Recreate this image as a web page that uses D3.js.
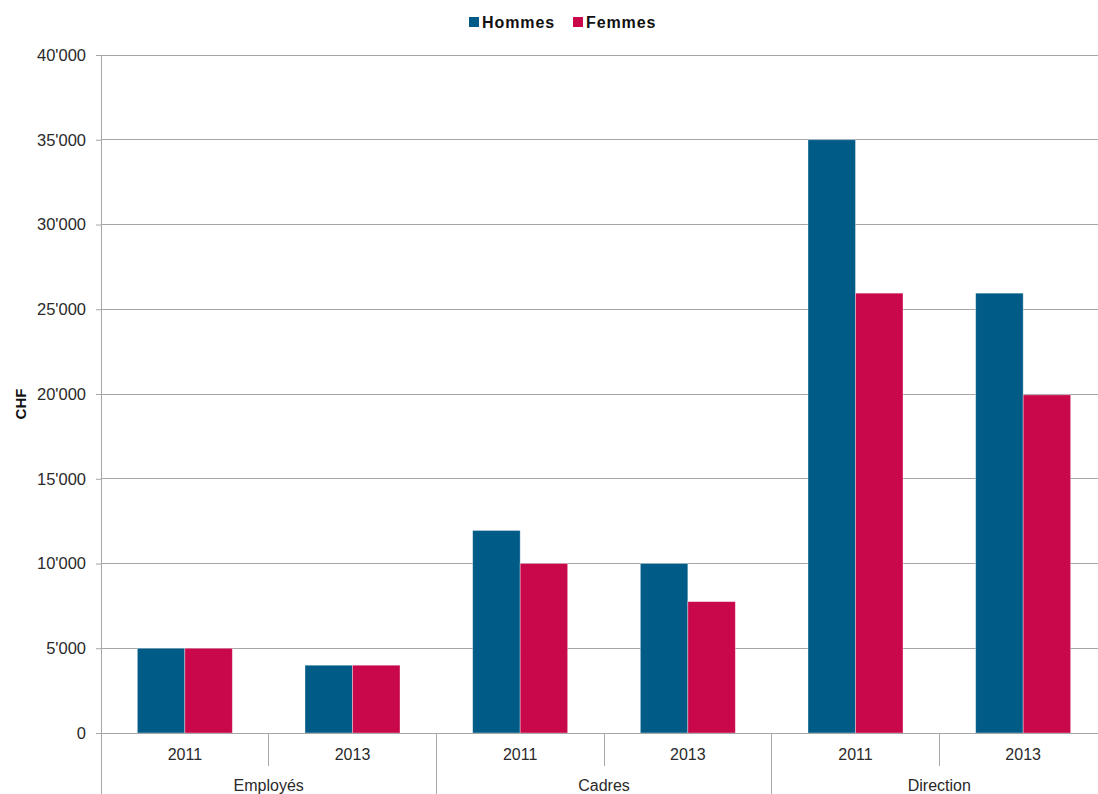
<!DOCTYPE html>
<html>
<head>
<meta charset="utf-8">
<script src="https://cdn.jsdelivr.net/npm/d3@7"></script>
<style>
  body { margin: 0; background: #fff; }
  svg { display: block; font-family: "Liberation Sans", Arial, sans-serif; }
</style>
</head>
<body>
<svg id="chart" width="1098" height="794"></svg>
<script>
// Categories, years and series values (CHF)
const groups = ["Employés", "Cadres", "Direction"];
const years = ["2011", "2013"];
const seriesNames = ["Hommes", "Femmes"];
const hommes = [5000, 4000, 11950, 10000, 35000, 25950];
const femmes = [5000, 4000, 10000, 7750, 25950, 19950];
const yTicks = [0, 5000, 10000, 15000, 20000, 25000, 30000, 35000, 40000];
const colors = ["#005b87", "#c8084a"];

(function () {
const svg = d3.select("#chart");
const plotLeft = 101, plotRight = 1107, plotTop = 55, plotBottom = 733;

// one band per group/year pair
const slots = [];
groups.forEach((g, gi) => years.forEach((yr, yi) => slots.push({ key: g + "|" + yr, group: g, year: yr, i: gi * 2 + yi })));

const x = d3.scaleBand().domain(slots.map(d => d.key)).range([plotLeft, plotRight]).paddingInner(0).paddingOuter(0);
const xInner = d3.scaleBand().domain(seriesNames).range([0, x.bandwidth()]).paddingInner(0).paddingOuter(0.765);
const y = d3.scaleLinear().domain([0, 40000]).range([plotBottom, plotTop]);

const fmt = v => v === 0 ? "0" : d3.format(",")(v).replace(/,/g, "'");

// gridlines
svg.append("g").selectAll("line").data(yTicks.filter(t => t > 0)).join("line")
  .attr("x1", plotLeft).attr("x2", plotRight)
  .attr("y1", d => y(d)).attr("y2", d => y(d))
  .attr("stroke", "#a6a6a6").attr("stroke-width", 1).attr("shape-rendering", "crispEdges");

// y axis
const yAxis = svg.append("g").attr("transform", `translate(${plotLeft},0)`)
  .call(d3.axisLeft(y).tickValues(yTicks).tickFormat(fmt).tickSize(5).tickPadding(10));
yAxis.select(".domain").remove();
yAxis.selectAll(".tick line").attr("stroke", "#a6a6a6");
yAxis.selectAll(".tick text").attr("fill", "#2a2a2a").style("font-size", "16.5px");

// bars
const data = [hommes, femmes];
const barG = svg.append("g");
slots.forEach(s => {
  seriesNames.forEach((name, si) => {
    const v = data[si][s.i];
    barG.append("rect")
      .attr("x", x(s.key) + xInner(name))
      .attr("width", xInner.bandwidth())
      .attr("y", y(v))
      .attr("height", y(0) - y(v))
      .attr("fill", colors[si])
      .attr("stroke", "rgba(255,255,255,0.45)")
      .attr("stroke-width", 0.8);
  });
});

// axis lines
svg.append("line").attr("x1", plotLeft).attr("x2", plotLeft).attr("y1", plotTop).attr("y2", 794)
  .attr("stroke", "#a6a6a6").attr("shape-rendering", "crispEdges");
svg.append("line").attr("x1", plotLeft).attr("x2", plotRight).attr("y1", plotBottom).attr("y2", plotBottom)
  .attr("stroke", "#a6a6a6").attr("shape-rendering", "crispEdges");

// separators: short between years, long between groups
slots.forEach(s => {
  if (s.i === 0) return;
  const xx = x(s.key);
  const isGroupEdge = s.i % 2 === 0;
  svg.append("line").attr("x1", xx).attr("x2", xx)
    .attr("y1", plotBottom).attr("y2", isGroupEdge ? 794 : 766)
    .attr("stroke", "#a6a6a6").attr("shape-rendering", "crispEdges");
});

// year labels
svg.append("g").selectAll("text").data(slots).join("text")
  .attr("x", d => x(d.key) + x.bandwidth() / 2)
  .attr("y", 760)
  .attr("text-anchor", "middle").attr("fill", "#2a2a2a").style("font-size", "16px")
  .text(d => d.year);

// group labels
svg.append("g").selectAll("text").data(groups).join("text")
  .attr("x", d => x(d + "|" + years[0]) + x.bandwidth())
  .attr("y", 791)
  .attr("text-anchor", "middle").attr("fill", "#2a2a2a").style("font-size", "16px")
  .text(d => d);

// y axis title
svg.append("text")
  .attr("transform", "translate(26,404) rotate(-90)")
  .attr("text-anchor", "middle").attr("fill", "#111")
  .style("font-size", "15px").style("font-weight", "bold")
  .text("CHF");

// legend
const legend = svg.append("g");
const legendItems = [{ name: "Hommes", x: 469 }, { name: "Femmes", x: 573 }];
legendItems.forEach((it, i) => {
  legend.append("rect").attr("x", it.x).attr("y", 17).attr("width", 10).attr("height", 10).attr("fill", colors[i]);
  legend.append("text").attr("x", it.x + 13).attr("y", 28)
    .attr("fill", "#111").style("font-size", "16px").style("font-weight", "bold")
    .style("letter-spacing", "0.9px")
    .text(it.name);
});
})();
</script>
</body>
</html>
